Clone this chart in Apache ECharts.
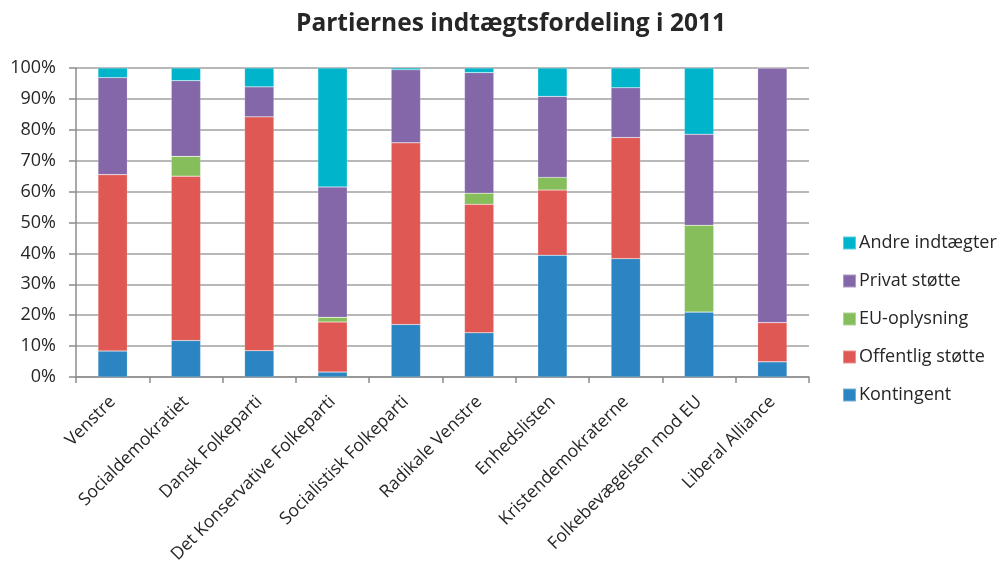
<!DOCTYPE html>
<html>
<head>
<meta charset="utf-8">
<script src="https://cdn.jsdelivr.net/npm/echarts@6/dist/echarts.min.js"></script>
<style>
  html, body { margin: 0; padding: 0; background: #fff; }
  #chart { width: 1002px; height: 573px; }
</style>
</head>
<body>
<div id="chart"></div>
<script>
// partier (x-akse)
const categories = [
  'Venstre', 'Socialdemokratiet', 'Dansk Folkeparti', 'Det Konservative Folkeparti',
  'Socialistisk Folkeparti', 'Radikale Venstre', 'Enhedslisten', 'Kristendemokraterne',
  'Folkebevægelsen mod EU', 'Liberal Alliance'
]

// andele i procent
const kontingent = [8.4, 11.8, 8.5, 1.6, 17.0, 14.3, 39.4, 38.3, 21.0, 4.9]
const offentligStotte = [57.1, 53.2, 75.7, 16.2, 58.8, 41.6, 21.1, 39.2, 0, 12.7]
const euOplysning = [0, 6.4, 0, 1.5, 0, 3.6, 4.1, 0, 28.1, 0]
const privatStotte = [31.4, 24.5, 9.7, 42.2, 23.6, 39.0, 26.2, 16.1, 29.5, 82.4]
const andreIndtaegter = [3.1, 4.1, 6.1, 38.5, 0.6, 1.5, 9.2, 6.4, 21.4, 0]

const yTicks = [0, 10, 20, 30, 40, 50, 60, 70, 80, 90, 100]

const font = '"Open Sans", "Noto Sans", sans-serif'
const textColor = '#262626'

const makeSeries = (name, data, color) => ({
  name,
  type: 'bar',
  stack: 'total',
  data,
  barWidth: '40%',
  itemStyle: { color, borderColor: 'rgba(255,255,255,0.35)', borderWidth: 0.5 }
})

const chart = echarts.init(document.getElementById('chart'))
chart.setOption({
  animation: false,
  textStyle: { fontFamily: font },
  title: {
    text: 'Partiernes indtægtsfordeling i 2011',
    left: 506,
    textAlign: 'center',
    top: 7,
    textStyle: { fontFamily: font, fontSize: 24.5, fontWeight: 'bold', color: textColor }
  },
  legend: {
    orient: 'vertical',
    left: 837,
    top: 228,
    itemWidth: 13,
    itemHeight: 13,
    itemGap: 18,
    icon: 'rect',
    data: ['Andre indtægter', 'Privat støtte', 'EU-oplysning', 'Offentlig støtte', 'Kontingent'],
    textStyle: { fontFamily: font, fontSize: 18, lineHeight: 20, color: textColor, padding: [0, 0, 0, -2] }
  },
  grid: { left: 76, right: 193, top: 68, bottom: 196, containLabel: false },
  xAxis: {
    type: 'category',
    data: categories,
    axisLine: { lineStyle: { color: '#8c8c8c', width: 1.5 } },
    axisTick: { show: true, length: 6, lineStyle: { color: '#8c8c8c', width: 1.5 } },
    axisLabel: {
      rotate: 45,
      interval: 0,
      margin: 22,
      fontSize: 17.5,
      color: textColor,
      fontFamily: font
    }
  },
  yAxis: {
    type: 'value',
    min: yTicks[0],
    max: yTicks[yTicks.length - 1],
    interval: 10,
    axisLine: { show: true, lineStyle: { color: '#8c8c8c', width: 1.5 } },
    axisTick: { show: true, length: 7, lineStyle: { color: '#8c8c8c', width: 1.5 } },
    splitLine: { show: true, lineStyle: { color: '#a0a0a0', width: 1.5 } },
    axisLabel: {
      formatter: '{value}%',
      margin: 20,
      fontSize: 18,
      color: textColor,
      fontFamily: font
    }
  },
  series: [
    makeSeries('Kontingent', kontingent, '#2A85C2'),
    makeSeries('Offentlig støtte', offentligStotte, '#E05853'),
    makeSeries('EU-oplysning', euOplysning, '#86BE5C'),
    makeSeries('Privat støtte', privatStotte, '#8467A9'),
    makeSeries('Andre indtægter', andreIndtaegter, '#00B4CB')
  ]
})
</script>
</body>
</html>
